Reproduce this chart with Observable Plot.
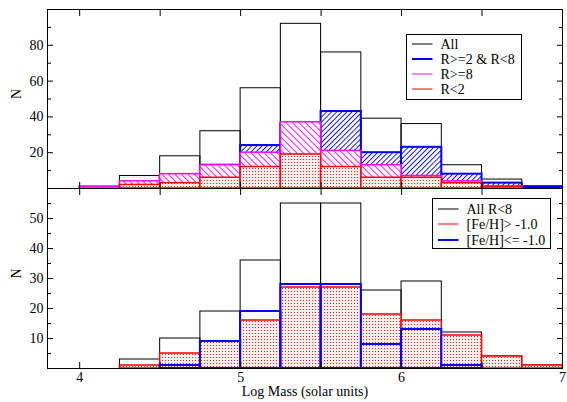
<!DOCTYPE html>
<html>
<head>
<meta charset="utf-8">
<script src="https://cdn.jsdelivr.net/npm/d3@7"></script>
<script src="https://cdn.jsdelivr.net/npm/@observablehq/plot@0.6"></script>
<style>
  body { margin: 0; background: #fff; }
  #chart { position: relative; width: 567px; height: 402px; font-family: "Liberation Serif", "Times New Roman", serif; }
  #chart svg { position: absolute; left: 0; overflow: visible; background: transparent; }
  #chart text { font-family: "Liberation Serif", "Times New Roman", serif; }
</style>
</head>
<body>
<div id="chart"></div>
<script>
// Histogram bins in log mass (left edges), each 0.25 dex wide
const binStart = [4.0, 4.25, 4.5, 4.75, 5.0, 5.25, 5.5, 5.75, 6.0, 6.25, 6.5, 6.75];
const binWidth = 0.25;

// Upper panel: counts split by galactocentric radius
const countAll      = [1, 7, 18, 32, 56, 92, 76, 39, 36, 13, 5, 1];
const countR2to8    = [0, 1, 7, 13, 24, 36, 43, 20, 23, 8, 3, 1];
const countRge8     = [1, 4, 8, 13, 20, 37, 21, 13, 7, 4, 1, 0];
const countRlt2     = [0, 2, 3, 6, 12, 19, 12, 6, 6, 3, 1, 0];

// Lower panel: R<8 sample split by metallicity
const countAllR8    = [0, 3, 10, 19, 36, 55, 55, 26, 29, 12, 4, 1];
const countFeRich   = [0, 1, 5, 9, 16, 27, 27, 18, 16, 11, 4, 1];
const countFePoor   = [0, 0, 1, 9, 19, 28, 28, 8, 13, 1, 0, 0];

// Axis ticks
const xMajor = [4, 5, 6, 7];
const xMinor = [4.5, 5.5, 6.5];
const yTopLabeled = [20, 40, 60, 80];
const yTopMinor = [10, 30, 50, 70, 90];
const yBotLabeled = [10, 20, 30, 40, 50];
const yBotMinor = [5, 15, 25, 35, 45, 55];

const legendTop = ["All", "R>=2 & R<8", "R>=8", "R<2"];
const legendTopColors = ["#000000", "#0000ff", "#ff00ff", "#ff0000"];
const legendBot = ["All R<8", "[Fe/H]> -1.0", "[Fe/H]<= -1.0"];
const legendBotColors = ["#000000", "#ff0000", "#0000ff"];

const FONT = "'Liberation Serif', 'Times New Roman', serif";

function bins(values) {
  return binStart
    .map((x, i) => ({x1: x, x2: x + binWidth, y: values[i]}))
    .filter(d => d.y > 0);
}

function hist(values, fill, stroke, strokeWidth) {
  return Plot.rectY(bins(values), {x1: "x1", x2: "x2", y: "y", fill, stroke, strokeWidth});
}

function frameAxes(yLabeled, yMinor, withXLabels) {
  const blank = () => "";
  const marks = [
    Plot.frame({stroke: "#000", strokeWidth: 1}),
    Plot.axisY(yLabeled, {anchor: "left", tickSize: 0, tickPadding: 4, fontSize: 14, label: null, fill: "#000"}),
    Plot.axisY(yLabeled, {anchor: "left", tickSize: -6, tickFormat: blank, label: null}),
    Plot.axisY(yMinor, {anchor: "left", tickSize: -4, tickFormat: blank, label: null}),
    Plot.axisY(yLabeled, {anchor: "right", tickSize: -6, tickFormat: blank, label: null}),
    Plot.axisY(yMinor, {anchor: "right", tickSize: -4, tickFormat: blank, label: null}),
    Plot.axisX(xMajor, {anchor: "top", tickSize: -6, tickFormat: blank, label: null}),
    Plot.axisX(xMinor, {anchor: "top", tickSize: -6, tickFormat: blank, label: null}),
    Plot.axisX(xMajor, {anchor: "bottom", tickSize: -6, tickFormat: blank, label: null}),
    Plot.axisX(xMinor, {anchor: "bottom", tickSize: -6, tickFormat: blank, label: null}),
    Plot.text(["N"], {frameAnchor: "left", dx: -31, rotate: -90, fontSize: 14, fill: "#000"})
  ];
  if (withXLabels) {
    marks.push(Plot.axisX(xMajor, {anchor: "bottom", tickSize: 0, tickPadding: 4, fontSize: 14, label: null, fill: "#000", tickFormat: d3.format("d")}));
    marks.push(Plot.text(["Log Mass (solar units)"], {frameAnchor: "bottom", dy: 27, fontSize: 14, fill: "#000"}));
  }
  return marks;
}

// Fill patterns: diagonal hatching and a fine red stipple on pale pink
function addPatterns(svg, prefix) {
  const defs = d3.select(svg).insert("defs", ":first-child");
  const hatch = (id, color, spacing, angle) => {
    const p = defs.append("pattern").attr("id", id).attr("patternUnits", "userSpaceOnUse")
      .attr("width", spacing).attr("height", spacing).attr("patternTransform", `rotate(${angle})`);
    p.append("rect").attr("width", spacing).attr("height", spacing).attr("fill", "#fff");
    p.append("line").attr("x1", 0.5).attr("y1", 0).attr("x2", 0.5).attr("y2", spacing)
      .attr("stroke", color).attr("stroke-width", 0.9);
  };
  hatch(prefix + "Blue", "#0000ff", 3.6, 45);
  hatch(prefix + "Mag", "#ff00ff", 4.6, -45);
  const dots = defs.append("pattern").attr("id", prefix + "Dots").attr("patternUnits", "userSpaceOnUse")
    .attr("width", 3).attr("height", 3);
  dots.append("rect").attr("width", 3).attr("height", 3).attr("fill", "#ffeeee");
  dots.append("rect").attr("width", 1).attr("height", 1).attr("fill", "#ff2020")
    .attr("shape-rendering", "crispEdges");
}

function legend(svg, x0, y0, w, h, rows, labels, colors) {
  const g = d3.select(svg).append("g").attr("font-size", 14)
    .attr("text-anchor", "start").style("font-family", FONT);
  g.append("rect").attr("x", x0).attr("y", y0).attr("width", w).attr("height", h)
    .attr("fill", "#fff").attr("stroke", "#000").attr("stroke-width", 1);
  labels.forEach((t, i) => {
    g.append("line").attr("x1", x0 + 5.5).attr("x2", x0 + 26).attr("y1", rows[i]).attr("y2", rows[i])
      .attr("stroke", colors[i]).attr("stroke-width", colors[i] === "#0000ff" ? 2 : 1);
    g.append("text").attr("x", x0 + 34).attr("y", rows[i]).attr("dy", "0.35em").attr("fill", "#000").text(t);
  });
}

const common = {
  width: 567, marginLeft: 47, marginRight: 5,
  x: {domain: [3.8, 7]},
  style: {fontFamily: FONT, fontSize: "14px", color: "#000", background: "transparent"}
};

const topPanel = Plot.plot({
  ...common,
  height: 190, marginTop: 9, marginBottom: 2,
  y: {domain: [0, 100]},
  marks: [
    hist(countAll, "none", "#000", 1),
    hist(countR2to8, "url(#tBlue)", "#0000ff", 2),
    hist(countRge8, "url(#tMag)", "#ff00ff", 1.5),
    hist(countRlt2, "url(#tDots)", "#ff0000", 1.5),
    ...frameAxes(yTopLabeled, yTopMinor, false)
  ]
});
addPatterns(topPanel, "t");
legend(topPanel, 406.5, 34.5, 115, 65, [44, 59, 74, 89], legendTop, legendTopColors);

const bottomPanel = Plot.plot({
  ...common,
  height: 216, marginTop: 2, marginBottom: 34,
  y: {domain: [0, 60]},
  marks: [
    hist(countAllR8, "none", "#000", 1),
    hist(countFeRich, "url(#bDots)", "#ff0000", 1.5),
    hist(countFePoor, "none", "#0000ff", 2),
    ...frameAxes(yBotLabeled, yBotMinor, true)
  ]
});
addPatterns(bottomPanel, "b");
legend(bottomPanel, 432.5, 12.5, 118, 50, [23, 38, 54], legendBot, legendBotColors);

const chart = document.getElementById("chart");
topPanel.style.top = "0px";
bottomPanel.style.top = "186px";
chart.appendChild(topPanel);
chart.appendChild(bottomPanel);
</script>
</body>
</html>
